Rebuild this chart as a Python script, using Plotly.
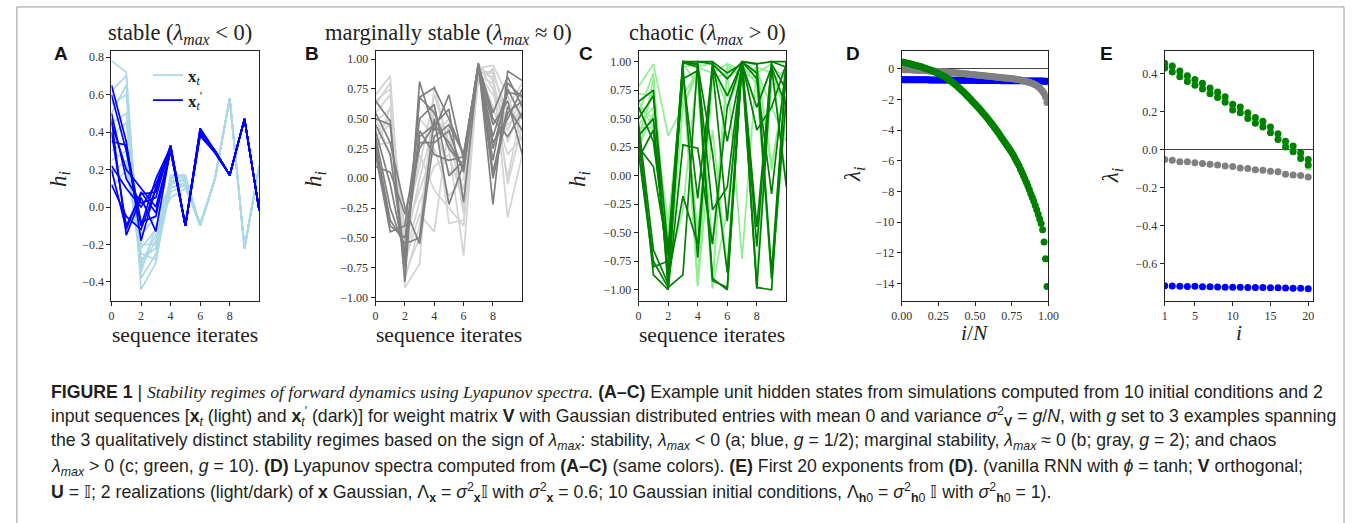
import plotly.graph_objects as go

W, H = 1357, 523

# ---------------- data ----------------
steps = list(range(11))

# Panel A (stable): light = x_t, dark = x'_t
a_light = [
    [0.78, 0.72, -0.44, -0.30, 0.17, 0.17, -0.10, 0.15, 0.58, -0.22, 0.22],
    [0.62, 0.70, -0.38, -0.25, 0.15, 0.16, -0.10, 0.15, 0.58, -0.22, 0.22],
    [0.55, 0.60, -0.30, -0.15, 0.12, 0.15, -0.09, 0.15, 0.58, -0.22, 0.22],
    [0.45, 0.50, -0.25, -0.28, 0.10, 0.13, -0.10, 0.15, 0.58, -0.22, 0.22],
    [0.38, 0.45, -0.20, -0.20, 0.08, 0.12, -0.10, 0.15, 0.58, -0.22, 0.22],
    [0.30, 0.35, -0.35, -0.10, 0.14, 0.14, -0.10, 0.15, 0.58, -0.22, 0.22],
    [0.25, 0.30, -0.15, -0.05, 0.11, 0.11, -0.09, 0.15, 0.58, -0.22, 0.22],
    [0.18, 0.25, -0.28, -0.22, 0.16, 0.16, -0.10, 0.15, 0.58, -0.22, 0.22],
    [0.10, 0.20, -0.22, -0.12, 0.05, 0.10, -0.10, 0.15, 0.58, -0.22, 0.22],
    [0.50, 0.65, -0.32, -0.18, 0.13, 0.15, -0.10, 0.15, 0.58, -0.22, 0.22],
]
a_dark = [
    [0.65, 0.35, -0.18, 0.10, 0.33, -0.10, 0.42, 0.30, 0.17, 0.47, -0.02],
    [0.60, 0.30, -0.10, 0.15, 0.32, -0.10, 0.41, 0.30, 0.17, 0.47, -0.02],
    [0.47, -0.15, 0.05, -0.13, 0.31, -0.10, 0.40, 0.29, 0.17, 0.47, -0.02],
    [0.45, 0.20, 0.10, 0.00, 0.30, -0.10, 0.39, 0.30, 0.17, 0.47, -0.02],
    [0.40, -0.10, 0.07, 0.08, 0.32, -0.10, 0.40, 0.30, 0.17, 0.47, -0.02],
    [0.35, 0.33, -0.08, -0.05, 0.30, -0.10, 0.38, 0.29, 0.17, 0.47, -0.02],
    [0.22, 0.10, 0.00, 0.12, 0.32, -0.10, 0.40, 0.30, 0.17, 0.47, -0.02],
    [0.20, -0.12, 0.08, -0.03, 0.31, -0.10, 0.41, 0.30, 0.17, 0.47, -0.02],
    [0.12, -0.05, -0.12, 0.10, 0.30, -0.10, 0.39, 0.30, 0.17, 0.47, -0.02],
    [0.50, 0.15, 0.02, 0.05, 0.33, -0.10, 0.42, 0.30, 0.17, 0.47, -0.02],
]

# Panel B (marginally stable)
b_light = [
    [0.70, 0.86, -0.92, -0.72, 0.78, 0.25, -0.65, 0.92, 0.95, 0.70, 0.30],
    [0.62, 0.80, -0.85, -0.40, 0.60, -0.38, -0.35, 0.90, 0.88, 0.55, 0.50],
    [0.55, 0.70, -0.75, 0.50, 0.35, 0.50, 0.20, 0.88, 0.90, -0.33, 0.20],
    [0.48, 0.58, -0.70, -0.30, -0.45, 0.45, -0.30, 0.85, 0.80, 0.40, 0.70],
    [0.40, 0.50, -0.65, -0.20, 0.10, 0.20, -0.20, 0.95, 0.75, 0.00, 0.60],
    [0.35, 0.45, -0.60, 0.00, 0.45, 0.05, 0.10, 0.90, 0.85, -0.05, 0.45],
    [0.28, 0.30, -0.55, 0.20, -0.10, -0.25, -0.40, 0.88, 0.70, 0.60, 0.80],
    [0.22, 0.60, -0.45, -0.10, 0.25, -0.15, 0.00, 0.92, 0.60, 0.20, 0.35],
    [0.50, 0.20, -0.40, 0.10, 0.70, 0.30, -0.10, 0.80, 0.92, 0.45, 0.55],
    [0.65, 0.75, -0.80, -0.50, 0.50, 0.40, -0.25, 0.96, 0.82, 0.30, 0.65],
]
b_dark = [
    [0.65, 0.48, -0.87, 0.81, 0.40, 0.70, 0.15, 0.97, -0.22, 0.90, 0.82],
    [0.50, 0.45, -0.75, 0.68, 0.76, 0.50, 0.20, 0.95, 0.55, 0.85, 0.60],
    [0.45, 0.20, -0.70, 0.68, 0.55, 0.25, 0.10, 0.93, 0.35, 0.75, 0.50],
    [0.40, -0.05, -0.65, 0.35, 0.45, 0.58, -0.20, 0.94, 0.25, 0.72, 0.70],
    [0.35, -0.25, -0.60, 0.40, 0.20, 0.15, 0.18, 0.96, 0.05, 0.60, 0.40],
    [0.30, -0.35, -0.55, -0.50, 0.50, -0.22, 0.12, 0.95, 0.00, 0.55, 0.65],
    [0.25, -0.40, -0.50, 0.30, 0.30, 0.40, 0.05, 0.92, 0.45, 0.65, 0.20],
    [0.20, -0.45, -0.40, 0.50, 0.62, 0.02, 0.15, 0.94, 0.30, 0.50, 0.75],
    [0.10, 0.05, -0.30, 0.25, 0.45, 0.30, 0.08, 0.96, 0.50, 0.35, 0.55],
    [0.55, 0.30, -0.25, -0.55, 0.35, 0.45, 0.20, 0.93, 0.15, 0.80, 0.68],
]

# Panel C (chaotic)
c_light = [
    [0.78, 0.98, 0.35, 0.60, 0.95, 0.90, 0.98, 0.85, 0.95, 0.90, 0.55],
    [0.65, 0.42, -0.50, 0.90, -0.96, 0.85, 0.90, -0.73, 0.97, 0.10, 0.80],
    [0.55, 0.90, -0.85, 0.95, 0.98, -0.98, -0.30, 0.95, -0.92, 0.98, -0.05],
    [0.45, 0.60, -0.95, 0.85, -0.90, 0.95, 0.70, 0.90, 0.85, -0.92, 0.60],
    [0.42, 0.42, -0.70, 0.70, 0.92, -0.95, 0.98, 0.92, 0.60, 0.95, 0.85],
    [0.35, 0.75, -0.60, 0.92, -0.97, 0.40, -0.80, 0.98, 0.92, 0.60, 0.30],
    [0.25, 0.55, -0.90, 0.98, 0.80, -0.99, 0.95, 0.88, -0.85, 0.80, 0.95],
    [0.20, 0.85, -0.80, -0.30, 0.96, 0.98, 0.85, 0.95, 0.98, 0.05, 0.92],
    [0.60, 0.50, -0.40, 0.80, -0.50, 0.96, 0.60, 0.92, 0.90, 0.98, 0.50],
    [0.72, 0.70, -0.97, 0.60, 0.90, -0.60, 0.92, 0.97, 0.80, -0.90, 0.98],
]
c_dark = [
    [0.65, 0.75, -1.00, 1.00, 1.00, 0.98, 0.85, 1.00, 0.98, 1.00, 1.00],
    [0.50, 0.70, -0.65, 1.00, 0.98, -0.90, -1.00, 1.00, -0.98, -1.00, 1.00],
    [0.45, -0.65, -0.95, 0.95, -0.72, 1.00, 0.90, 0.98, 0.60, 0.95, -0.10],
    [0.40, -0.87, -1.00, 0.27, 0.24, -0.60, 0.60, 1.00, -0.62, 1.00, 0.95],
    [0.35, 0.50, -0.90, -0.18, -0.60, 0.95, -0.40, 1.00, 0.98, -0.85, 0.98],
    [0.30, -0.75, -0.98, -0.87, 1.00, 1.00, 0.30, 0.96, -0.99, 0.95, 0.60],
    [0.25, 0.08, -0.70, 0.85, 0.92, -0.92, -0.98, 1.00, 0.90, -0.90, 0.70],
    [0.20, -0.80, -0.75, 0.90, -0.20, 0.95, 0.70, 0.99, 0.40, 0.60, 0.98],
    [0.15, 0.40, -0.85, 0.99, 0.95, -0.30, -0.10, 1.00, 0.85, -0.16, 1.00],
    [0.60, 0.30, -0.68, 1.00, 0.97, 0.20, -0.85, 1.00, -0.45, 0.98, 0.75],
]

# Panel D: Lyapunov spectra, N = 100
spec_x = [i / 100 for i in range(100)]
spec_green = [
    0.44, 0.425, 0.40, 0.375, 0.355, 0.335, 0.31, 0.29, 0.265, 0.225,
    0.21, 0.18, 0.155, 0.135, 0.105, 0.07, 0.03, 0.005, -0.03, -0.065,
    -0.10, -0.14, -0.18, -0.22, -0.26, -0.31, -0.36, -0.41, -0.46, -0.51,
    -0.56, -0.63, -0.70, -0.77, -0.84, -0.91, -0.99, -1.07, -1.15, -1.24,
    -1.33, -1.42, -1.51, -1.60, -1.70, -1.80, -1.90, -2.00, -2.10, -2.20,
    -2.30, -2.40, -2.51, -2.62, -2.73, -2.84, -2.95, -3.06, -3.18, -3.30,
    -3.42, -3.54, -3.67, -3.80, -3.93, -4.06, -4.20, -4.34, -4.48, -4.62,
    -4.76, -4.90, -5.04, -5.18, -5.32, -5.46, -5.62, -5.80, -5.98, -6.16,
    -6.35, -6.56, -6.77, -6.98, -7.20, -7.42, -7.65, -7.90, -8.15, -8.40,
    -8.65, -8.92, -9.20, -9.50, -9.80, -10.10, -10.50, -11.30, -12.40, -14.20,
]
spec_gray = [
    -0.05, -0.055, -0.062, -0.062, -0.068, -0.072, -0.076, -0.08, -0.085, -0.088,
    -0.095, -0.098, -0.105, -0.107, -0.112, -0.115, -0.128, -0.132, -0.135, -0.142,
    -0.15, -0.155, -0.16, -0.17, -0.175, -0.18, -0.19, -0.195, -0.205, -0.21,
    -0.22, -0.225, -0.235, -0.24, -0.25, -0.26, -0.27, -0.275, -0.285, -0.295,
    -0.30, -0.31, -0.32, -0.33, -0.34, -0.35, -0.36, -0.37, -0.38, -0.39,
    -0.40, -0.41, -0.42, -0.43, -0.44, -0.45, -0.46, -0.47, -0.48, -0.49,
    -0.50, -0.51, -0.52, -0.53, -0.54, -0.55, -0.56, -0.57, -0.58, -0.59,
    -0.60, -0.61, -0.62, -0.63, -0.64, -0.65, -0.66, -0.67, -0.69, -0.70,
    -0.72, -0.74, -0.76, -0.78, -0.80, -0.83, -0.86, -0.89, -0.92, -0.96,
    -1.00, -1.05, -1.10, -1.17, -1.25, -1.35, -1.47, -1.62, -1.85, -2.20,
]
spec_blue = [
    -0.715, -0.716, -0.717, -0.718, -0.717, -0.72, -0.72, -0.721, -0.722, -0.722,
    -0.722, -0.724, -0.724, -0.724, -0.725, -0.725, -0.726, -0.728, -0.728, -0.73,
    -0.73, -0.731, -0.731, -0.733, -0.734, -0.734, -0.736, -0.737, -0.737, -0.739,
    -0.74, -0.741, -0.742, -0.742, -0.744, -0.745, -0.746, -0.746, -0.748, -0.749,
    -0.75, -0.751, -0.752, -0.753, -0.753, -0.755, -0.756, -0.757, -0.758, -0.758,
    -0.76, -0.761, -0.762, -0.763, -0.764, -0.765, -0.766, -0.767, -0.768, -0.769,
    -0.77, -0.771, -0.772, -0.773, -0.774, -0.775, -0.776, -0.777, -0.778, -0.779,
    -0.78, -0.781, -0.782, -0.783, -0.784, -0.785, -0.786, -0.787, -0.788, -0.789,
    -0.79, -0.791, -0.792, -0.793, -0.794, -0.795, -0.796, -0.797, -0.798, -0.799,
    -0.80, -0.801, -0.802, -0.804, -0.805, -0.807, -0.809, -0.811, -0.814, -0.818,
]

# Panel E: first 20 exponents (spread over initial conditions)
exp_i = list(range(1, 21))
e_green_hi = [0.455, 0.44, 0.415, 0.39, 0.37, 0.35, 0.325, 0.305, 0.28, 0.24,
              0.225, 0.195, 0.17, 0.15, 0.12, 0.085, 0.045, 0.02, -0.015, -0.05]
e_green_lo = [0.43, 0.41, 0.385, 0.36, 0.34, 0.32, 0.295, 0.275, 0.25, 0.21,
              0.195, 0.165, 0.14, 0.12, 0.09, 0.055, 0.015, -0.01, -0.045, -0.08]
e_green_light = [0.445, 0.445, 0.40, 0.375, 0.355, 0.335, 0.31, 0.29, 0.265, 0.225,
                 0.21, 0.18, 0.155, 0.135, 0.095, 0.06, 0.03, 0.005, -0.03, -0.09]
e_gray = [-0.05, -0.055, -0.062, -0.062, -0.068, -0.072, -0.076, -0.08, -0.085, -0.088,
          -0.095, -0.098, -0.105, -0.107, -0.112, -0.115, -0.128, -0.132, -0.135, -0.142]
e_blue = [-0.715, -0.716, -0.717, -0.718, -0.717, -0.72, -0.72, -0.721, -0.722, -0.722,
          -0.722, -0.724, -0.724, -0.724, -0.725, -0.725, -0.726, -0.728, -0.728, -0.73]

seq_ticks = [0, 2, 4, 6, 8]
d_xticks = [0, 0.25, 0.5, 0.75, 1.0]
e_xticks = [1, 5, 10, 15, 20]

# ---------------- figure ----------------
def px(x):
    return x / W

def py(y):
    return 1 - y / H

SERIF = "Liberation Serif, DejaVu Serif, serif"
SANS = "Liberation Sans, Arial, sans-serif"
CAP = "Liberation Sans, Arial, sans-serif"

fig = go.Figure()

panels = [  # (axis suffix, x0px, x1px)
    ("", 103, 253),
    ("2", 371, 520),
    ("3", 638, 788),
    ("4", 905, 1054),
    ("5", 1172, 1322),
]

def add_lines(rows, color, suffix, legend_name=None):
    for k, row in enumerate(rows):
        fig.add_trace(go.Scatter(
            x=steps, y=row, mode="lines",
            line=dict(color=color, width=1.7),
            xaxis="x" + suffix, yaxis="y" + suffix,
            showlegend=(legend_name is not None and k == 0),
            name=legend_name if legend_name else "",
            hoverinfo="skip",
        ))

add_lines(a_light, "#ADD8E6", "", "<b>x</b><sub><i>t</i></sub>")
add_lines(a_dark, "#0000FF", "", "<b>x</b><sub><i>t</i></sub><sup>′</sup>")
add_lines(b_light, "#D3D3D3", "2")
add_lines(b_dark, "#808080", "2")
add_lines(c_light, "#90EE90", "3")
add_lines(c_dark, "#008000", "3")

for ys, col in [(spec_blue, "#0000FF"), (spec_gray, "#808080"), (spec_green, "#008000")]:
    fig.add_trace(go.Scatter(x=spec_x, y=ys, mode="markers",
                             marker=dict(color=col, size=7, line=dict(width=0)),
                             xaxis="x4", yaxis="y4", showlegend=False, hoverinfo="skip"))

fig.add_trace(go.Scatter(x=exp_i, y=e_green_light, mode="markers",
                         marker=dict(color="#90EE90", size=7, line=dict(width=0)),
                         xaxis="x5", yaxis="y5", showlegend=False, hoverinfo="skip"))
for ys, col in [(e_green_hi, "#008000"), (e_green_lo, "#008000"),
                (e_gray, "#808080"), (e_blue, "#0000FF")]:
    fig.add_trace(go.Scatter(x=exp_i, y=ys, mode="markers",
                             marker=dict(color=col, size=7, line=dict(width=0)),
                             xaxis="x5", yaxis="y5", showlegend=False, hoverinfo="skip"))

axis_common = dict(
    showline=True, mirror=True, linecolor="#222", linewidth=1,
    ticks="outside", ticklen=4, tickwidth=1, tickcolor="#222",
    showgrid=False, zeroline=False,
    tickfont=dict(family=SERIF, size=12, color="#333"),
)

y_top, y_bot = 51, 303
yranges = [(-0.5, 0.835), (-1.028, 1.072), (-1.096, 1.096), (-15.13, 1.18), (-0.793, 0.522)]
yticks = [
    [-0.4, -0.2, 0.0, 0.2, 0.4, 0.6, 0.8],
    [-1.0, -0.75, -0.5, -0.25, 0.0, 0.25, 0.5, 0.75, 1.0],
    [-1.0, -0.75, -0.5, -0.25, 0.0, 0.25, 0.5, 0.75, 1.0],
    [-14, -12, -10, -8, -6, -4, -2, 0],
    [-0.6, -0.4, -0.2, 0.0, 0.2, 0.4],
]
yfmt = [".1f", ".2f", ".2f", "d", ".1f"]
xranges = [(0, 10), (0, 10), (0, 10), (0, 1), (1, 20.57)]
xtickvals = [seq_ticks, seq_ticks, seq_ticks, d_xticks, e_xticks]
xfmt = ["d", "d", "d", ".2f", "d"]

layout = {}
for n, (suf, x0, x1) in enumerate(panels):
    xa = dict(axis_common, domain=[px(x0), px(x1)], range=list(xranges[n]),
              tickvals=xtickvals[n], tickformat=xfmt[n], anchor="y" + suf)
    ya = dict(axis_common, domain=[py(y_bot), py(y_top)], range=list(yranges[n]),
              tickvals=yticks[n], tickformat=yfmt[n], anchor="x" + suf)
    if n >= 3:
        ya["zeroline"] = True
        ya["zerolinecolor"] = "#444"
        ya["zerolinewidth"] = 1
    layout["xaxis" + suf] = xa
    layout["yaxis" + suf] = ya

fig.update_layout(**layout)

ann = []
def text(x, y, s, size, family=SERIF, color="#222", angle=0, xanchor="center"):
    ann.append(dict(x=px(x), y=py(y), xref="paper", yref="paper", text=s,
                    showarrow=False, xanchor=xanchor, yanchor="middle",
                    textangle=angle, font=dict(family=family, size=size, color=color)))

# panel titles
text(173, 34, "stable (<i>λ</i><sub><i>max</i></sub> &lt; 0)", 22.5)
text(445, 34, "marginally stable (<i>λ</i><sub><i>max</i></sub> ≈ 0)", 22.5)
text(708, 34, "chaotic (<i>λ</i><sub><i>max</i></sub> &gt; 0)", 22.5)

# panel letters
for s, x in [("A", 52), ("B", 307), ("C", 585), ("D", 856), ("E", 1113)]:
    text(x, 54, "<b>" + s + "</b>", 19, family=SANS, color="#111")

# axis titles
for x in [50, 309, 577]:
    text(x, 180, "<i>h</i><sub><i>i</i></sub>", 23, angle=-90)
for cx in [178, 445.5, 713]:
    text(cx, 338, "sequence iterates", 21.5)
text(856, 176, "<i>λ</i><sub><i>i</i></sub>", 23, angle=-90)
text(1118, 177, "<i>λ</i><sub><i>i</i></sub>", 23, angle=-90)
text(979.5, 336, "<i>i</i>/<i>N</i>", 21.5)
text(1247, 336, "<i>i</i>", 21.5)

# caption
cap_lines = [
    "<b>FIGURE 1</b> | <span style='font-family:Liberation Serif'><i>Stability regimes of forward dynamics using Lyapunov spectra.</i></span> <b>(A–C)</b> Example unit hidden states from simulations computed from 10 initial conditions and 2",
    "input sequences [<b>x</b><sub><i>t</i></sub> (light) and <b>x</b><sub><i>t</i></sub><sup>′</sup> (dark)] for weight matrix <b>V</b> with Gaussian distributed entries with mean 0 and variance <i>σ</i><sup>2</sup><sub><b>V</b></sub> = <i>g</i>/<i>N</i>, with <i>g</i> set to 3 examples spanning",
    "the 3 qualitatively distinct stability regimes based on the sign of <i>λ</i><sub><i>max</i></sub>: stability, <i>λ</i><sub><i>max</i></sub> &lt; 0 (a; blue, <i>g</i> = 1/2); marginal stability, <i>λ</i><sub><i>max</i></sub> ≈ 0 (b; gray, <i>g</i> = 2); and chaos",
    "<i>λ</i><sub><i>max</i></sub> &gt; 0 (c; green, <i>g</i> = 10). <b>(D)</b> Lyapunov spectra computed from <b>(A–C)</b> (same colors). <b>(E)</b> First 20 exponents from <b>(D)</b>. (vanilla RNN with <i>ϕ</i> = tanh; <b>V</b> orthogonal;",
    "<b>U</b> = 𝕀; 2 realizations (light/dark) of <b>x</b> Gaussian, Λ<sub><b>x</b></sub> = <i>σ</i><sup>2</sup><sub><b>x</b></sub>𝕀 with <i>σ</i><sup>2</sup><sub><b>x</b></sub> = 0.6; 10 Gaussian initial conditions, Λ<sub><b>h</b>0</sub> = <i>σ</i><sup>2</sup><sub><b>h</b>0</sub> 𝕀 with <i>σ</i><sup>2</sup><sub><b>h</b>0</sub> = 1).",
]
for k, s in enumerate(cap_lines):
    text(40, 395 + 25.2 * k, s, 17.7, family=CAP, color="#231f20", xanchor="left")

fig.update_layout(
    annotations=ann,
    width=W, height=H,
    margin=dict(l=0, r=0, t=0, b=0),
    paper_bgcolor="white", plot_bgcolor="white",
    showlegend=True,
    legend=dict(x=px(140), y=py(58), xanchor="left", yanchor="top",
                bgcolor="rgba(0,0,0,0)", borderwidth=0,
                font=dict(family=SERIF, size=17, color="#222"),
                itemwidth=30, tracegroupgap=0),
    shapes=[dict(type="rect", xref="paper", yref="paper",
                 x0=px(7), x1=px(1354), y0=-0.05, y1=py(7),
                 line=dict(color="#999", width=1), layer="below")],
)

fig.write_html("out.html", config={"displayModeBar": False},
               post_script="document.body.style.margin='0';")
